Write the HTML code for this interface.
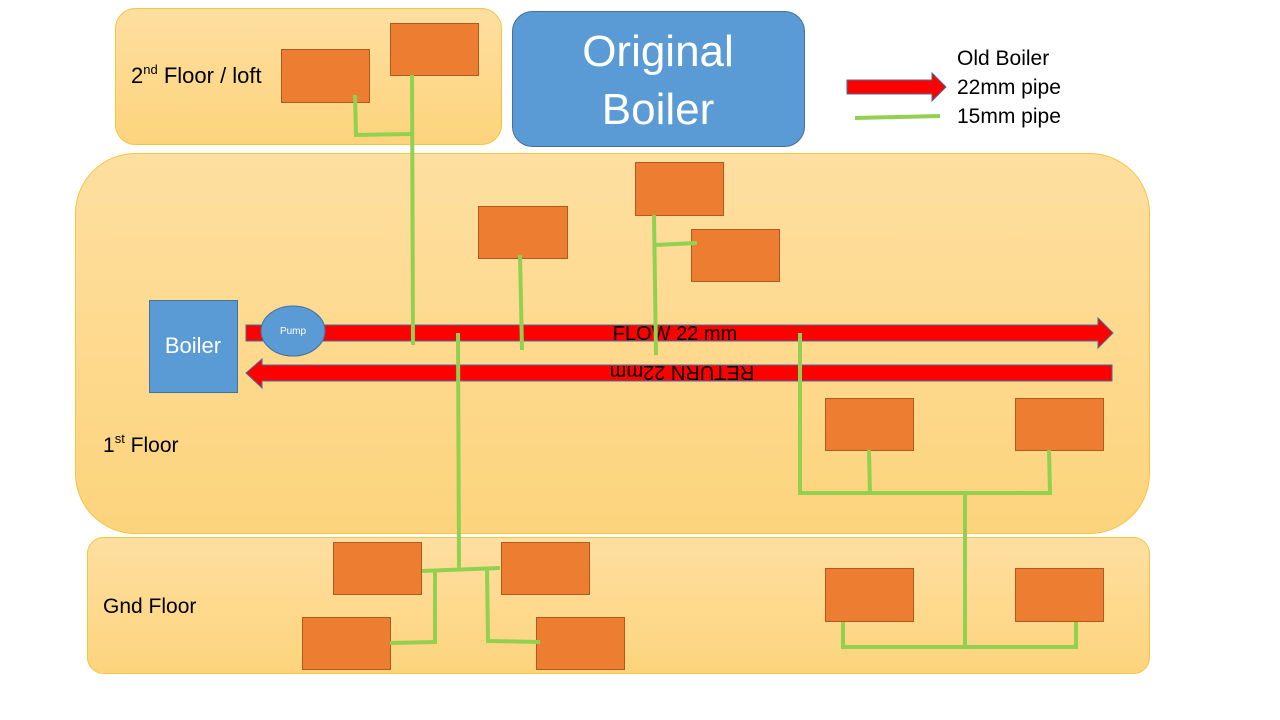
<!DOCTYPE html>
<html><head><style>body{margin:0;background:#fff}svg{display:block}text{font-family:"Liberation Sans",sans-serif}</style></head><body>
<svg width="1280" height="720" viewBox="0 0 1280 720">
<defs><linearGradient id="g" x1="0" y1="0" x2="0" y2="1"><stop offset="0" stop-color="#fedfa0"/><stop offset="1" stop-color="#fdd47d"/></linearGradient></defs>
<rect x="115.5" y="8.5" width="386" height="136" rx="20" fill="url(#g)" stroke="#f7c440"/>
<rect x="75.5" y="153.5" width="1074" height="380" rx="60" fill="url(#g)" stroke="#f7c440"/>
<rect x="87.5" y="537.5" width="1062" height="136" rx="16" fill="url(#g)" stroke="#f7c440"/>
<rect x="512.5" y="11.5" width="292" height="135" rx="20" fill="#5b9bd5" stroke="#41719c"/>
<text x="658" y="66" font-size="44" fill="#fff" text-anchor="middle">Original</text>
<text x="658" y="124" font-size="44" fill="#fff" text-anchor="middle">Boiler</text>
<text x="131" y="83" font-size="22">2<tspan font-size="13" dy="-9">nd</tspan><tspan dy="9"> Floor / loft</tspan></text>
<text x="103" y="452" font-size="21">1<tspan font-size="13" dy="-9">st</tspan><tspan dy="9"> Floor</tspan></text>
<text x="103" y="613" font-size="21">Gnd Floor</text>
<text x="957" y="65" font-size="21">Old Boiler</text>
<text x="957" y="94" font-size="21">22mm pipe</text>
<text x="957" y="123" font-size="21">15mm pipe</text>
<polygon points="847,80 932,80 932,73 946,87 932,101 932,94 847,94" fill="#f00" stroke="#41719c"/>
<line x1="855" y1="118" x2="940" y2="116" stroke="#92d050" stroke-width="4"/>
<polygon points="246,325 1098,325 1098,318 1113,333 1098,348 1098,341 246,341" fill="#f00" stroke="#41719c"/>
<polygon points="1112,365 262,365 262,359 246,373 262,388 262,381 1112,381" fill="#f00" stroke="#41719c"/>
<text x="675" y="340" font-size="20" text-anchor="middle">FLOW 22 mm</text>
<text x="0" y="0" font-size="20" text-anchor="middle" transform="translate(682,366) rotate(180)">RETURN 22mm</text>
<rect x="149.5" y="300.5" width="88" height="92" fill="#5b9bd5" stroke="#41719c"/>
<text x="193" y="353" font-size="22" fill="#fff" text-anchor="middle">Boiler</text>
<ellipse cx="293" cy="331" rx="32" ry="25" fill="#5b9bd5" stroke="#41719c"/>
<text x="293" y="334" font-size="10" fill="#fff" text-anchor="middle">Pump</text>
<g fill="#ed7d31" stroke="#ae5a21">
<rect x="390.5" y="23.5" width="88" height="52"/><rect x="281.5" y="49.5" width="88" height="53"/>
<rect x="478.5" y="206.5" width="89" height="52"/><rect x="635.5" y="162.5" width="88" height="53"/>
<rect x="691.5" y="229.5" width="88" height="52"/><rect x="825.5" y="398.5" width="88" height="52"/>
<rect x="1015.5" y="398.5" width="88" height="52"/><rect x="333.5" y="542.5" width="88" height="52"/>
<rect x="501.5" y="542.5" width="88" height="52"/><rect x="302.5" y="617.5" width="88" height="52"/>
<rect x="536.5" y="617.5" width="88" height="52"/><rect x="825.5" y="568.5" width="88" height="53"/>
<rect x="1015.5" y="568.5" width="88" height="53"/>
</g>
<g stroke="#92d050" stroke-width="4" fill="none">
<polyline points="355,95 356,135 412,134"/><line x1="412" y1="75" x2="413" y2="345"/>
<line x1="520" y1="255" x2="522" y2="350"/>
<line x1="654" y1="215" x2="656" y2="355"/><line x1="654" y1="245" x2="697" y2="243"/>
<line x1="458" y1="333" x2="459" y2="569"/>
<line x1="422" y1="571" x2="500" y2="568"/>
<polyline points="390,643 435,642 435,571"/>
<polyline points="487,568 488,641 540,642"/>
<polyline points="800,333 800,493 1050,493 1049,450"/>
<line x1="869" y1="450" x2="870" y2="495"/>
<line x1="965" y1="493" x2="965" y2="647"/>
<polyline points="843,622 843,647 1076,647 1076,622"/>
</g>
</svg>
</body></html>
